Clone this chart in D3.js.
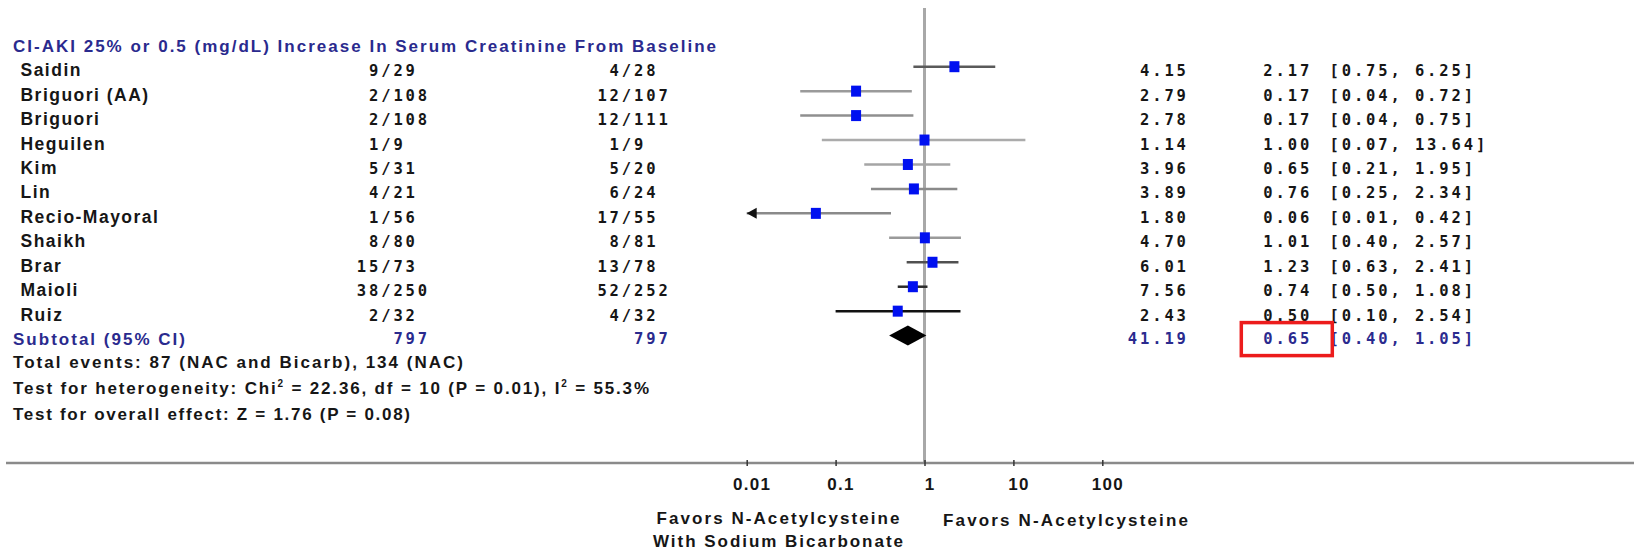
<!DOCTYPE html>
<html>
<head>
<meta charset="utf-8">
<script src="https://cdn.jsdelivr.net/npm/d3@7/dist/d3.min.js"></script>
<style>
  html, body { margin: 0; padding: 0; background: #fff; }
  svg { display: block; }
  text { font-family: "Liberation Sans", Arial, sans-serif; font-weight: bold; }
  .mono { font-family: "DejaVu Sans Mono", monospace; font-weight: bold; }
</style>
</head>
<body>
<svg id="chart" width="1634" height="555"></svg>
<script>
// Study-level data: CI-AKI (25% or 0.5 mg/dL rise in serum creatinine)
const studies = ["Saidin", "Briguori (AA)", "Briguori", "Heguilen", "Kim", "Lin",
                 "Recio-Mayoral", "Shaikh", "Brar", "Maioli", "Ruiz"];
const bicarbEvents = [9, 2, 2, 1, 5, 4, 1, 8, 15, 38, 2];
const bicarbTotals = [29, 108, 108, 9, 31, 21, 56, 80, 73, 250, 32];
const nacEvents = [4, 12, 12, 1, 5, 6, 17, 8, 13, 52, 4];
const nacTotals = [28, 107, 111, 9, 20, 24, 55, 81, 78, 252, 32];
const weights = [4.15, 2.79, 2.78, 1.14, 3.96, 3.89, 1.80, 4.70, 6.01, 7.56, 2.43];
const oddsRatios = [2.17, 0.17, 0.17, 1.00, 0.65, 0.76, 0.06, 1.01, 1.23, 0.74, 0.50];
const ciLower = [0.75, 0.04, 0.04, 0.07, 0.21, 0.25, 0.01, 0.40, 0.63, 0.50, 0.10];
const ciUpper = [6.25, 0.72, 0.75, 13.64, 1.95, 2.34, 0.42, 2.57, 2.41, 1.08, 2.54];

// Pooled estimate
const subtotalTotals = [797, 797];
const subtotalWeight = 41.19;
const subtotalOR = [0.65, 0.40, 1.05]; // estimate, lower, upper

// Axis ticks
const tickValues = [0.01, 0.1, 1, 10, 100];
const tickLabels = ["0.01", "0.1", "1", "10", "100"];

// Summary text
const titleText = "CI-AKI 25% or 0.5 (mg/dL) Increase In Serum Creatinine From Baseline";
const totalEventsText = "Total events: 87 (NAC and Bicarb), 134 (NAC)";
const overallText = "Test for overall effect: Z = 1.76 (P = 0.08)";
const leftFavors = ["Favors N-Acetylcysteine", "With Sodium Bicarbonate"];
const rightFavors = "Favors N-Acetylcysteine";

// ---------------------------------------------------------------
const svg = d3.select("#chart");
const navy = "#2a2a8e";
const ink = "#161616";
const labelSize = 17.5;
const monoSize = 15.5;
const monoSpacing = "2.87px";

const x = d3.scaleLog().domain([0.01, 100]).range([746.7, 1102.3]);
const y = d3.scaleLinear().domain([0, 11]).range([66.7, 335.6]);
const axisY = 463;

// Line shades for the confidence intervals
const ciShade = {
  "Saidin": "#5a5a5a", "Briguori (AA)": "#9a9a9a", "Briguori": "#8f8f8f",
  "Heguilen": "#ababab", "Kim": "#a5a5a5", "Lin": "#8a8a8a",
  "Recio-Mayoral": "#8a8a8a", "Shaikh": "#9a9a9a", "Brar": "#505050",
  "Maioli": "#2a2a2a", "Ruiz": "#111111"
};

// Line of no effect
svg.append("line")
  .attr("x1", x(1)).attr("x2", x(1))
  .attr("y1", 8).attr("y2", axisY)
  .attr("stroke", "#a8a8a8").attr("stroke-width", 3);

// Horizontal axis
svg.append("line")
  .attr("x1", 6).attr("x2", 1634)
  .attr("y1", axisY).attr("y2", axisY)
  .attr("stroke", "#8a8a8a").attr("stroke-width", 2.5);

const axis = d3.axisBottom(x)
  .tickValues(tickValues)
  .tickFormat((d, i) => tickLabels[i])
  .tickSize(3);

const gAxis = svg.append("g").attr("transform", `translate(0,${axisY})`).call(axis);
gAxis.select(".domain").remove();
gAxis.selectAll(".tick line")
  .attr("y1", -3).attr("y2", 3)
  .attr("stroke", "#333").attr("stroke-width", 1.5);
gAxis.selectAll(".tick text")
  .attr("x", 5)
  .attr("y", 26.5)
  .attr("dy", 0)
  .attr("fill", ink)
  .style("font-family", "'Liberation Sans', Arial, sans-serif")
  .style("font-weight", "bold")
  .style("font-size", "17px")
  .style("letter-spacing", "1.3px");

// Title
svg.append("text")
  .attr("x", 13).attr("y", 51.5)
  .attr("fill", navy)
  .attr("font-size", 17)
  .attr("textLength", 703).attr("lengthAdjust", "spacing")
  .text(titleText);

// Study rows
const rows = svg.append("g").selectAll("g")
  .data(studies.map((s, i) => ({
    name: s, i,
    be: bicarbEvents[i], bt: bicarbTotals[i],
    ne: nacEvents[i], nt: nacTotals[i],
    w: weights[i], or: oddsRatios[i], lo: ciLower[i], hi: ciUpper[i]
  })))
  .join("g");

const adv = 12.2;           // monospace advance incl. spacing
const col1Slash = 381.2;    // start of "/" in experimental column
const col2Slash = 621.8;    // start of "/" in control column
const weightRight = 1188.8;
const orLeft = 1263.3;      // odds ratio column
const bracketLeft = 1329.5; // confidence interval column
const f2 = d3.format(".2f");

function monoText(sel) {
  return sel.attr("class", "mono")
    .attr("font-size", monoSize)
    .style("letter-spacing", monoSpacing);
}

rows.append("text")
  .attr("x", 20.5).attr("y", d => y(d.i) + 9.5)
  .attr("fill", ink).attr("font-size", labelSize)
  .style("letter-spacing", "1.48px")
  .text(d => d.name);

rows.append("text").call(monoText)
  .attr("x", d => col1Slash - String(d.be).length * adv)
  .attr("y", d => y(d.i) + 9.5)
  .attr("fill", ink)
  .text(d => `${d.be}/${d.bt}`);

rows.append("text").call(monoText)
  .attr("x", d => col2Slash - String(d.ne).length * adv)
  .attr("y", d => y(d.i) + 9.5)
  .attr("fill", ink)
  .text(d => `${d.ne}/${d.nt}`);

rows.append("text").call(monoText)
  .attr("x", d => weightRight - f2(d.w).length * adv)
  .attr("y", d => y(d.i) + 9.5)
  .attr("fill", ink)
  .text(d => f2(d.w));

rows.append("text").call(monoText)
  .attr("x", orLeft)
  .attr("y", d => y(d.i) + 9.5)
  .attr("fill", ink)
  .text(d => f2(d.or));

rows.append("text").call(monoText)
  .attr("x", bracketLeft)
  .attr("y", d => y(d.i) + 9.5)
  .attr("fill", ink)
  .text(d => `[${f2(d.lo)}, ${f2(d.hi)}]`);

// Confidence interval lines
rows.append("line")
  .attr("x1", d => x(Math.max(d.lo, 0.01)))
  .attr("x2", d => x(Math.min(d.hi, 100)))
  .attr("y1", d => y(d.i)).attr("y2", d => y(d.i))
  .attr("stroke", d => ciShade[d.name]).attr("stroke-width", 2.5);

// Arrow where the interval reaches the edge of the scale
rows.filter(d => d.lo <= 0.01).append("path")
  .attr("d", d => {
    const x0 = x(0.01), yy = y(d.i);
    return `M${x0},${yy} L${x0 + 10},${yy - 5.5} L${x0 + 10},${yy + 5.5} Z`;
  })
  .attr("fill", "#111");

// Point estimates
rows.append("rect")
  .attr("x", d => x(d.or) - 5)
  .attr("y", d => y(d.i) - 5.5)
  .attr("width", 10).attr("height", 11)
  .attr("fill", "#0010f0");

// Subtotal row
const ySub = y(11);
svg.append("text")
  .attr("x", 13).attr("y", ySub + 9)
  .attr("fill", navy).attr("font-size", 17)
  .attr("textLength", 172).attr("lengthAdjust", "spacing")
  .text("Subtotal (95% CI)");

svg.append("text").call(monoText)
  .attr("x", col1Slash + adv).attr("y", ySub + 8.5)
  .attr("fill", navy)
  .text(subtotalTotals[0]);

svg.append("text").call(monoText)
  .attr("x", col2Slash + adv).attr("y", ySub + 8.5)
  .attr("fill", navy)
  .text(subtotalTotals[1]);

svg.append("text").call(monoText)
  .attr("x", weightRight - f2(subtotalWeight).length * adv).attr("y", ySub + 8.5)
  .attr("fill", navy)
  .text(f2(subtotalWeight));

svg.append("text").call(monoText)
  .attr("x", orLeft).attr("y", ySub + 8.5)
  .attr("fill", navy)
  .text(f2(subtotalOR[0]));

svg.append("text").call(monoText)
  .attr("x", bracketLeft).attr("y", ySub + 8.5)
  .attr("fill", navy)
  .text(`[${f2(subtotalOR[1])}, ${f2(subtotalOR[2])}]`);

// Pooled diamond
svg.append("path")
  .attr("d", `M${x(subtotalOR[1])},${ySub} L${x(subtotalOR[0])},${ySub - 10} ` +
             `L${x(subtotalOR[2])},${ySub} L${x(subtotalOR[0])},${ySub + 10} Z`)
  .attr("fill", "#000");

// Highlight around the pooled odds ratio
svg.append("rect")
  .attr("x", orLeft - 22).attr("y", ySub - 13)
  .attr("width", 91).attr("height", 33)
  .attr("fill", "none")
  .attr("stroke", "#ec1c1c").attr("stroke-width", 3.5);

// Summary statistics
svg.append("text")
  .attr("x", 13).attr("y", 367.5)
  .attr("fill", ink).attr("font-size", 17)
  .attr("textLength", 450).attr("lengthAdjust", "spacing")
  .text(totalEventsText);

const het = svg.append("text")
  .attr("x", 13).attr("y", 393.5)
  .attr("fill", ink).attr("font-size", 17)
  .attr("textLength", 636).attr("lengthAdjust", "spacing");
het.append("tspan").text("Test for heterogeneity: Chi");
het.append("tspan").attr("font-size", 10).attr("dy", -7).text("2");
het.append("tspan").attr("dy", 7).text(" = 22.36, df = 10 (P = 0.01), I");
het.append("tspan").attr("font-size", 10).attr("dy", -7).text("2");
het.append("tspan").attr("dy", 7).text(" = 55.3%");

svg.append("text")
  .attr("x", 13).attr("y", 419.5)
  .attr("fill", ink).attr("font-size", 17)
  .attr("textLength", 397).attr("lengthAdjust", "spacing")
  .text(overallText);

// Direction labels under the axis
svg.append("text")
  .attr("x", 778).attr("y", 523.5).attr("text-anchor", "middle")
  .attr("fill", ink).attr("font-size", 17)
  .attr("textLength", 243).attr("lengthAdjust", "spacing")
  .text(leftFavors[0]);
svg.append("text")
  .attr("x", 778).attr("y", 546.5).attr("text-anchor", "middle")
  .attr("fill", ink).attr("font-size", 17)
  .attr("textLength", 250).attr("lengthAdjust", "spacing")
  .text(leftFavors[1]);
svg.append("text")
  .attr("x", 943).attr("y", 526)
  .attr("fill", ink).attr("font-size", 17)
  .attr("textLength", 245).attr("lengthAdjust", "spacing")
  .text(rightFavors);
</script>
</body>
</html>
